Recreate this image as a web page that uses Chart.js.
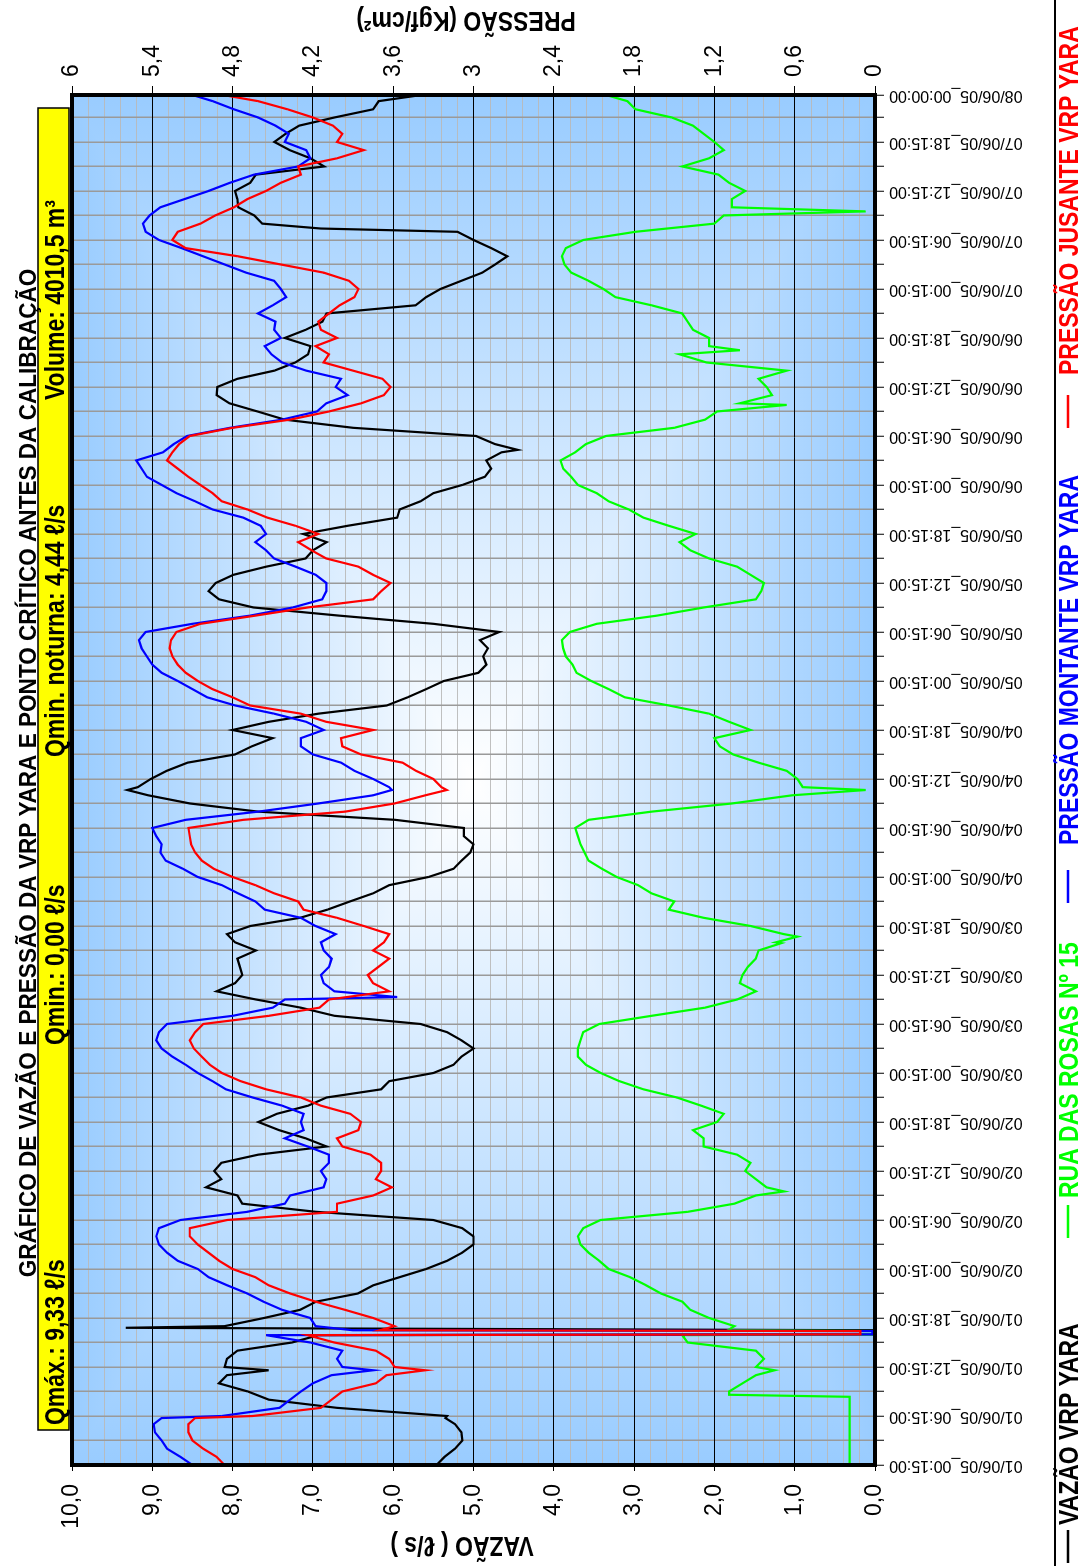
<!DOCTYPE html>
<html lang="pt-BR">
<head>
<meta charset="utf-8">
<title>Gráfico de vazão e pressão da VRP Yara</title>
<script src="https://cdn.jsdelivr.net/npm/chart.js@4.4.1/dist/chart.umd.min.js"></script>
<style>
  html, body { margin: 0; padding: 0; background: #ffffff; overflow: hidden; }
  body { width: 1080px; height: 1566px; position: relative; }
  /* the chart is laid out landscape and turned a quarter turn to stand on the page */
  #wrap {
    position: absolute; left: 0; top: 0;
    width: 1566px; height: 1080px;
    transform-origin: 0 0;
    transform: translate(0, 1566px) rotate(-90deg);
    background: #ffffff;
  }
  canvas { display: block; }
</style>
</head>
<body>
<div id="wrap"><canvas id="grafico" width="1566" height="1080"></canvas></div>
<script>
// Horas decorridas desde 01/06/05 00:15
const tempos = [
  0,1,2,3,4,5,5.75,6,7,8,8.35,8.6,9,10,11,11.6,12,13,14,15,15.9,16,16.4,16.5,16.8,17,
  18,19,20,21,22,23,24,25,26,27,28,29,30,31,32,33,33.5,
  34,35,36,37,38,39,40,41,42,43,44,45,46,47,48,49,50,51,52,53,54,55,56,57,57.3,
  58,59,60,61,62,63,63.9,64,64.7,
  65,66,67,68,69,70,71,72,73,74,75,76,77,78,79,80,81,82,82.65,
  83,84,85,86,87,88,89,90,91,92,93,94,95,96,97,98,99,100,101,102,103,104,105,106,107,108,109,110,111,112,113,114,115,116,117,118,119,120,121,122,123,124,124.3,
  125,126,127,128,129,129.8,
  130,131,132,133,134,135,136,136.5,
  137,138,139,140,141,142,143,144,145,146,147,148,149,150,151,151.4,
  152,153,153.5,
  154,155,156,157,158,159,160,161,162,163,164,165,166,167,167.75
];

// VAZÃO VRP YARA (ℓ/s)
const vazao = [
  5.46,5.36,5.23,5.14,5.15,5.23,5.35,5.33,6.70,7.55,null,null,7.81,8.17,8.07,7.55,8.10,8.07,7.94,7.26,6.93,0,0,0,9.33,8.10,
  7.61,7.16,6.96,6.44,6.25,5.92,5.59,5.33,5.14,5.00,5.00,5.14,5.50,6.96,7.88,7.94,null,
  8.33,8.14,8.23,8.14,7.68,6.83,7.09,7.42,7.68,7.45,7.06,6.83,6.15,6.05,5.50,5.25,5.15,5.00,5.15,5.33,5.66,6.73,7.15,7.71,null,
  8.20,7.97,7.88,7.91,7.94,7.71,null,7.97,null,
  8.07,7.78,7.16,6.82,6.54,6.25,6.05,5.56,5.25,5.15,5.04,5.00,5.12,5.12,5.98,7.68,8.53,9.05,9.31,
  9.18,9.02,8.82,8.56,7.97,7.76,7.50,8.00,7.55,6.93,6.08,5.82,5.59,5.37,4.94,4.84,4.88,4.82,4.92,4.68,5.50,6.67,7.74,8.17,8.30,8.21,7.99,7.58,7.09,7.00,6.83,7.12,6.57,5.95,5.92,5.66,5.50,5.14,4.86,4.78,4.84,4.65,4.45,
  4.73,4.97,6.50,7.35,7.69,null,
  8.04,8.20,8.19,7.94,7.48,7.22,7.06,null,
  7.03,7.35,7.09,6.88,6.83,5.72,5.59,5.41,5.15,4.89,4.73,4.58,4.78,5.00,5.20,6.90,
  7.63,7.73,null,
  7.93,7.94,7.97,7.78,7.71,6.86,7.03,7.29,7.48,7.34,7.17,6.73,6.25,6.18,5.65
];

// PRESSÃO MONTANTE VRP YARA (kgf/cm²)
const montante = [
  5.10,5.19,5.29,5.33,5.38,5.39,5.33,4.88,4.45,4.37,null,null,4.29,4.20,4.06,3.75,3.98,4.02,3.98,4.22,4.55,0.02,0.02,3.90,null,4.18,
  4.22,4.43,4.57,4.69,4.84,4.98,5.06,5.21,5.29,5.35,5.37,5.35,5.19,4.69,4.41,4.37,null,
  4.12,4.10,4.14,4.08,4.08,4.24,4.41,4.27,4.29,4.27,4.43,4.65,4.85,4.95,5.06,5.15,5.25,5.33,5.37,5.35,5.29,4.80,4.50,4.41,3.57,
  4.04,4.12,4.14,4.08,4.06,4.12,null,4.14,null,
  4.03,4.18,4.29,4.56,4.63,4.76,4.88,5.06,5.17,5.30,5.34,5.33,5.37,5.40,5.15,4.61,4.16,3.75,3.61,
  3.63,3.75,3.89,3.99,4.20,4.29,4.29,4.12,4.25,4.49,4.78,4.99,5.10,5.21,5.33,5.40,5.44,5.48,5.50,5.45,5.10,4.67,4.35,4.13,4.10,4.10,4.18,4.33,4.49,4.55,4.63,4.55,4.59,4.72,4.95,5.08,5.22,5.33,5.44,5.48,5.52,5.32,null,
  5.24,5.14,4.82,4.43,4.17,null,
  4.10,3.94,4.03,3.99,4.25,4.43,4.51,null,
  4.56,4.44,4.49,4.48,4.61,4.50,4.40,4.44,4.49,4.70,4.86,5.02,5.18,5.35,5.45,null,
  5.47,5.42,null,
  5.34,5.16,4.98,4.82,4.64,4.31,4.22,4.25,4.41,4.38,4.48,4.61,4.79,4.95,5.10
];

// PRESSÃO JUSANTE VRP YARA (kgf/cm²)
const jusante = [
  4.86,4.92,5.02,5.10,5.13,5.13,5.08,4.65,4.14,4.06,null,null,3.98,3.73,3.65,3.36,3.59,3.63,3.73,4.04,4.24,0.11,0.11,3.70,null,3.59,
  3.75,3.96,4.18,4.37,4.53,4.63,4.80,4.90,4.98,5.06,5.12,5.12,4.84,4.02,4.02,3.75,null,
  3.61,3.73,3.69,3.69,3.77,3.98,4.02,3.86,3.84,3.92,4.14,4.29,4.55,4.74,4.88,4.97,5.03,5.09,5.12,5.08,5.02,4.53,4.15,4.08,null,
  3.63,3.75,3.79,3.71,3.63,3.75,null,3.67,null,
  3.63,3.82,4.02,4.27,4.31,4.49,4.63,4.80,4.94,5.03,5.08,5.11,5.12,5.13,4.72,3.96,3.59,3.36,3.20,
  3.24,3.30,3.43,3.53,3.84,3.98,3.99,3.75,4.10,4.29,4.67,4.80,4.95,5.06,5.15,5.21,5.25,5.27,5.26,5.22,5.04,4.63,4.24,3.75,3.69,3.62,3.75,3.86,4.10,4.21,4.31,4.16,4.33,4.54,4.69,4.88,4.95,5.04,5.13,5.21,5.29,5.25,null,
  5.20,5.12,4.80,4.37,4.08,null,
  3.84,3.67,3.62,3.68,3.90,4.12,4.08,null,
  4.18,4.02,4.14,4.16,4.08,4.00,3.89,3.86,3.93,4.12,4.44,4.76,5.15,5.25,5.21,null,
  5.04,4.93,null,
  4.79,4.69,4.55,4.44,4.29,4.31,4.02,3.82,4.02,3.98,4.05,4.20,4.39,4.61,4.87
];

// RUA DAS ROSAS Nº 15 (kgf/cm²)
const ruaRosas = [
  0.19,0.19,0.19,0.19,0.19,0.19,0.19,0.19,0.19,0.19,0.19,1.09,1.09,0.99,0.89,0.75,0.89,0.83,0.89,1.40,1.44,0.01,0.01,1.10,null,1.05,
  1.24,1.38,1.44,1.60,1.71,1.83,1.99,2.06,2.14,2.20,2.22,2.18,2.05,1.40,1.05,0.89,0.68,
  0.81,0.89,0.97,0.93,1.03,1.28,1.28,1.36,1.18,1.13,1.30,1.48,1.73,1.91,2.05,2.16,2.22,2.22,2.20,2.18,2.06,1.67,1.27,1.03,null,
  0.89,1.01,0.99,0.95,0.89,0.87,0.70,0.74,0.58,
  0.68,0.93,1.28,1.54,1.50,1.67,1.77,1.93,2.04,2.14,2.17,2.20,2.22,2.24,2.14,1.67,1.07,0.62,0.07,
  0.54,0.58,0.66,0.87,1.06,1.16,1.20,0.93,1.09,1.24,1.54,1.87,1.99,2.12,2.23,2.26,2.31,2.33,2.34,2.28,2.08,1.63,1.28,0.89,0.85,0.83,0.93,1.03,1.24,1.38,1.46,1.34,1.54,1.73,1.84,1.99,2.08,2.22,2.27,2.33,2.35,2.24,null,
  2.16,2.01,1.50,1.27,1.18,0.66,
  1.01,0.77,0.81,0.87,0.66,1.26,1.46,1.01,
  1.24,1.24,1.36,1.40,1.44,1.67,1.94,2.03,2.14,2.27,2.32,2.34,2.31,2.18,1.79,null,
  1.20,1.13,0.07,
  1.07,1.07,0.97,1.09,1.17,1.44,1.24,1.13,1.20,1.28,1.36,1.52,1.79,1.85,2.01
];

// Eixos
const vazaoTicks = [0,1,2,3,4,5,6,7,8,9,10];
const pressaoTicks = [0,0.6,1.2,1.8,2.4,3,3.6,4.2,4.8,5.4,6];
const horasGrade = [0,3,6,9,12,15,18,21,24,27,30,33,36,39,42,45,48,51,54,57,60,63,66,69,72,75,78,81,
  84,87,90,93,96,99,102,105,108,111,114,117,120,123,126,129,132,135,138,141,144,147,150,153,156,159,162,165,167.75];
const horasRotulo = [0,6,12,18,24,30,36,42,48,54,60,66,72,78,84,90,96,102,108,114,120,126,132,138,144,150,156,162,167.75];
const rotulosTempo = [
  "01/06/05_00:15:00","01/06/05_06:15:00","01/06/05_12:15:00","01/06/05_18:15:00",
  "02/06/05_00:15:00","02/06/05_06:15:00","02/06/05_12:15:00","02/06/05_18:15:00",
  "03/06/05_00:15:00","03/06/05_06:15:00","03/06/05_12:15:00","03/06/05_18:15:00",
  "04/06/05_00:15:00","04/06/05_06:15:00","04/06/05_12:15:00","04/06/05_18:15:00",
  "05/06/05_00:15:00","05/06/05_06:15:00","05/06/05_12:15:00","05/06/05_18:15:00",
  "06/06/05_00:15:00","06/06/05_06:15:00","06/06/05_12:15:00","06/06/05_18:15:00",
  "07/06/05_00:15:00","07/06/05_06:15:00","07/06/05_12:15:00","07/06/05_18:15:00",
  "08/06/05_00:00:00"
];

const titulo = "GRÁFICO DE VAZÃO E PRESSÃO DA VRP YARA E PONTO CRÍTICO ANTES DA CALIBRAÇÃO";
const resumo = ["Qmáx.: 9,33 ℓ/s", "Qmin.: 0,00 ℓ/s", "Qmin. noturna: 4,44 ℓ/s", "Volume: 4010,5 m³"];
const series = [
  { nome: "VAZÃO VRP YARA", cor: "#000000", valores: vazao, eixo: "y", ordem: 3 },
  { nome: "RUA DAS ROSAS Nº 15", cor: "#00ff00", valores: ruaRosas, eixo: "y1", ordem: 2 },
  { nome: "PRESSÃO MONTANTE VRP YARA", cor: "#0000ff", valores: montante, eixo: "y1", ordem: 1 },
  { nome: "PRESSÃO JUSANTE VRP YARA", cor: "#ff0000", valores: jusante, eixo: "y1", ordem: 0 }
];

const FONTE = "'Liberation Sans',Arial,Helvetica,sans-serif";

function virgula(v, casas) {
  return (casas == null ? String(Math.round(v * 10) / 10) : v.toFixed(casas)).replace('.', ',');
}

// escreve um texto comprimido na horizontal, opcionalmente girado
function texto(ctx, s, x, y, alinhamento, giro, aperto = 0.82) {
  ctx.save();
  ctx.translate(x, y);
  if (giro) ctx.rotate(giro);
  ctx.scale(aperto, 1);
  ctx.textAlign = alinhamento;
  ctx.fillText(s, 0, 0);
  ctx.restore();
}

// fundo, contorno, título, quadro-resumo e legenda
const moldura = {
  id: 'moldura',
  beforeDraw(chart) {
    const { ctx, chartArea: a, scales } = chart;
    ctx.save();
    ctx.fillStyle = '#ffffff';
    ctx.fillRect(0, 0, chart.width, chart.height);
    // degradê retangular a partir do centro
    const cx = (a.left + a.right) / 2, cy = (a.top + a.bottom) / 2;
    const borda = '#99ccff', centro = '#ffffff';
    const gh = ctx.createLinearGradient(a.left, 0, a.right, 0);
    gh.addColorStop(0, borda); gh.addColorStop(0.5, centro); gh.addColorStop(1, borda);
    ctx.fillStyle = gh;
    ctx.fillRect(a.left, a.top, a.right - a.left, a.bottom - a.top);
    const gv = ctx.createLinearGradient(0, a.top, 0, a.bottom);
    gv.addColorStop(0, borda); gv.addColorStop(0.5, centro); gv.addColorStop(1, borda);
    ctx.fillStyle = gv;
    ctx.beginPath();
    ctx.moveTo(a.left, a.top); ctx.lineTo(a.right, a.top); ctx.lineTo(cx, cy); ctx.closePath();
    ctx.moveTo(a.left, a.bottom); ctx.lineTo(a.right, a.bottom); ctx.lineTo(cx, cy); ctx.closePath();
    ctx.fill();
    // linhas secundárias de vazão a cada 0,2
    ctx.strokeStyle = 'rgba(185,185,185,0.9)';
    ctx.lineWidth = 1;
    ctx.beginPath();
    for (let v = 0.2; v < 10; v += 0.2) {
      if (Math.abs(v - Math.round(v)) < 0.01) continue;
      const y = Math.round(scales.y.getPixelForValue(v)) + 0.5;
      ctx.moveTo(a.left, y); ctx.lineTo(a.right, y);
    }
    ctx.stroke();
    ctx.restore();
  },
  afterDatasetsDraw(chart) {
    const { ctx, chartArea: a } = chart;
    ctx.save();
    ctx.strokeStyle = '#000000';
    ctx.lineWidth = 4;
    ctx.strokeRect(a.left, a.top, a.right - a.left, a.bottom - a.top);
    ctx.restore();
  },
  afterDraw(chart) {
    const { ctx } = chart;
    ctx.save();
    ctx.fillStyle = '#000000';
    ctx.textBaseline = 'alphabetic';
    // quadro-resumo
    ctx.fillStyle = '#ffff00';
    ctx.fillRect(136, 38, 1322, 31);
    ctx.strokeStyle = '#000000';
    ctx.lineWidth = 1.5;
    ctx.strokeRect(136, 38, 1322, 31);
    ctx.fillStyle = '#000000';
    ctx.font = `bold 28px ${FONTE}`;
    const xs = [141, 521, 809, 1166];
    resumo.forEach((t, i) => texto(ctx, t, xs[i], 64, 'left'));
    // título
    ctx.font = `bold 24px ${FONTE}`;
    texto(ctx, titulo, 793, 36, 'center', 0, 0.94);
    // títulos dos eixos
    ctx.font = `bold 28px ${FONTE}`;
    texto(ctx, 'VAZÃO ( ℓ/s )', 29, 462, 'center', -Math.PI / 2);
    texto(ctx, 'PRESSÃO (Kgf/cm²)', 1554, 466, 'center', -Math.PI / 2);
    // legenda
    ctx.strokeStyle = '#000000';
    ctx.lineWidth = 2;
    ctx.strokeRect(-5, 1055, 1576, 40);
    const linhas = [[3, 36, 41], [328, 361, 368], [663, 696, 721], [1138, 1171, 1191]];
    series.forEach((s, i) => {
      const [x0, x1, xt] = linhas[i];
      ctx.strokeStyle = s.cor;
      ctx.lineWidth = 2.5;
      ctx.beginPath(); ctx.moveTo(x0, 1068); ctx.lineTo(x1, 1068); ctx.stroke();
      ctx.fillStyle = s.cor;
      texto(ctx, s.nome, xt, 1078, 'left');
    });
    ctx.restore();
  }
};

const chart = new Chart(document.getElementById('grafico'), {
  type: 'line',
  data: {
    datasets: series.map(s => ({
      label: s.nome,
      data: tempos.map((t, i) => ({ x: t, y: s.valores[i] })),
      yAxisID: s.eixo,
      borderColor: s.cor,
      backgroundColor: s.cor,
      borderWidth: 2.2,
      pointRadius: 0,
      tension: 0,
      spanGaps: true,
      order: s.ordem
    }))
  },
  options: {
    responsive: false,
    animation: false,
    devicePixelRatio: 1,
    layout: { padding: { top: 72, left: 0, right: 0, bottom: 0 } },
    plugins: { legend: { display: false }, tooltip: { enabled: false }, title: { display: false } },
    scales: {
      x: {
        type: 'linear', position: 'bottom', min: 0, max: 167.75,
        afterBuildTicks: sc => { sc.ticks = horasGrade.map(v => ({ value: v })); },
        afterFit: sc => { sc.height = 205; },
        grid: { color: '#9a9a9a', lineWidth: 1.5, tickLength: 9, tickColor: '#000000', tickWidth: 1 },
        border: { display: false },
        ticks: {
          autoSkip: false, minRotation: 90, maxRotation: 90, padding: 5,
          color: '#000000', font: { family: FONTE, size: 16 },
          callback: v => { const i = horasRotulo.indexOf(v); return i >= 0 ? rotulosTempo[i] : ''; }
        }
      },
      y: {
        type: 'linear', position: 'left', min: 0, max: 10,
        afterBuildTicks: sc => { sc.ticks = vazaoTicks.map(v => ({ value: v })); },
        afterFit: sc => { sc.width = 101; },
        grid: { color: '#000000', lineWidth: 1, tickLength: 6, tickColor: '#000000' },
        border: { display: false },
        ticks: { padding: 13, color: '#000000', font: { family: FONTE, size: 23 }, callback: v => virgula(v, 1) }
      },
      y1: {
        type: 'linear', position: 'right', min: 0, max: 6,
        afterBuildTicks: sc => { sc.ticks = pressaoTicks.map(v => ({ value: v })); },
        afterFit: sc => { sc.width = 95; },
        grid: { drawOnChartArea: false, tickLength: 9, tickColor: '#000000' },
        border: { display: false },
        ticks: { padding: 9, color: '#000000', font: { family: FONTE, size: 23 }, callback: v => virgula(v) }
      }
    }
  },
  plugins: [moldura]
});
</script>
</body>
</html>
